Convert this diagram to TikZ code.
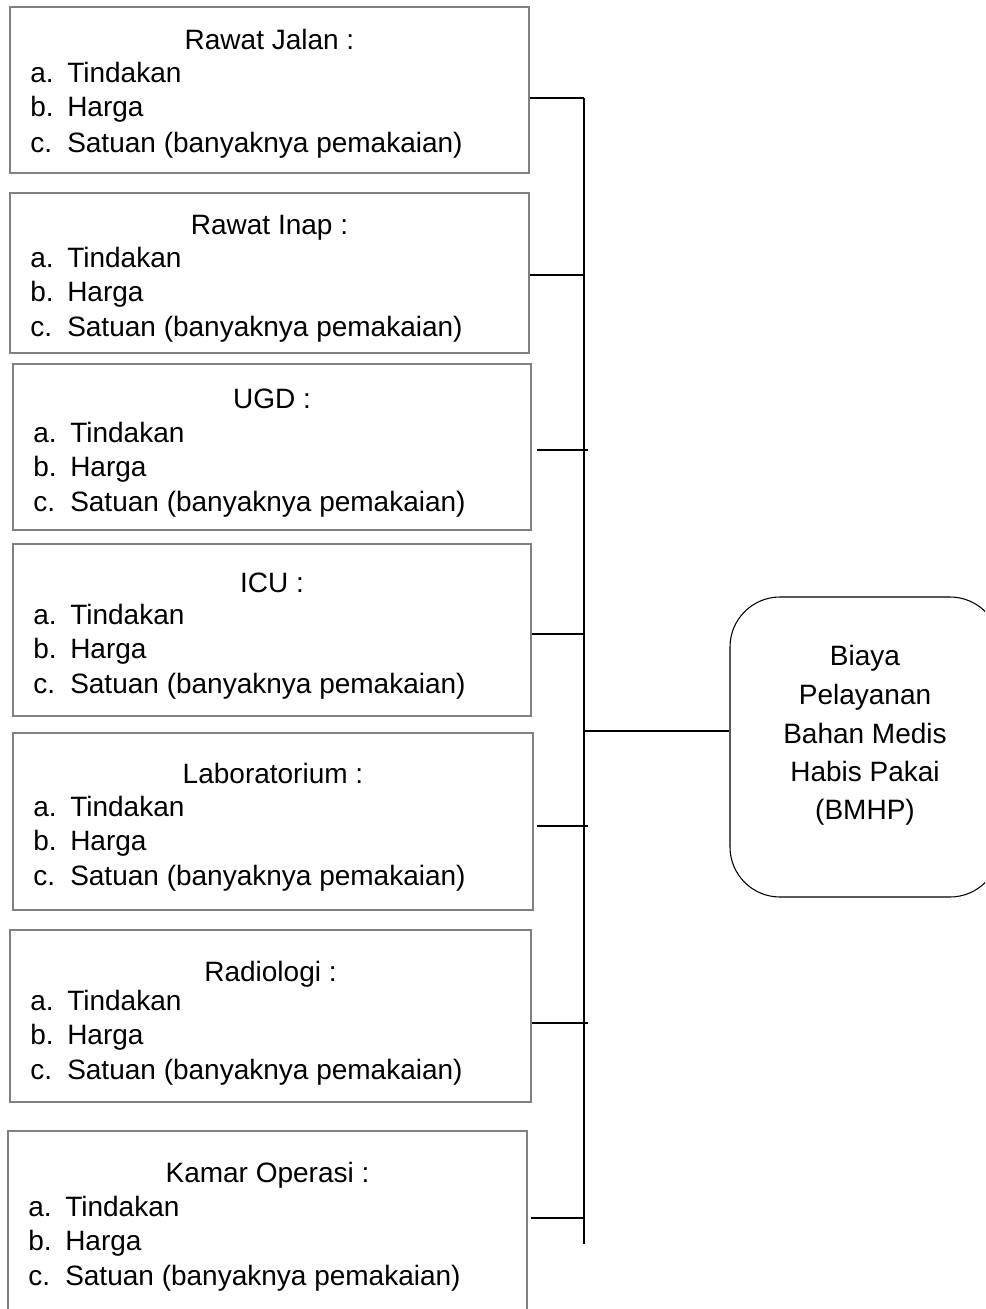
\documentclass[tikz,border=0pt]{standalone}
\usepackage{fontspec}
\setmainfont{Liberation Sans}
\usetikzlibrary{fit}
\definecolor{boxgray}{RGB}{128,128,128}
\newcommand\fsz{\fontsize{21}{25}\selectfont}
\newcommand\lab[1]{\makebox[27.75pt][l]{#1}}
% name, L, T, R, B, title, title baseline, first item baseline
\newcommand\unitbox[8]{%
  \node[box, fit={(#2,#3) (#4,#5)}] (#1) {};
  \node[ttl] (#1t) at ({(#2+#4)/2},#7) {#6};
  \node[itm] (#1a) at ({#2+20},#8) {\lab{a.}Tindakan};
  \node[itm] (#1b) at ({#2+20},{#8+34}) {\lab{b.}Harga};
  \node[itm] (#1c) at ({#2+20},{#8+69}) {\lab{c.}Satuan (banyaknya pemakaian)};
}
\begin{document}
\begin{tikzpicture}[x=0.75pt,y=-0.75pt,
  box/.style={draw=boxgray, line width=1pt, inner sep=0pt},
  ttl/.style={anchor=base, inner sep=0pt, font=\fsz},
  itm/.style={anchor=base west, inner sep=0pt, font=\fsz},
  conn/.style={draw=black, line width=0.8pt},
  bline/.style={anchor=base, inner sep=0pt, font=\fsz}]
\useasboundingbox (0,0) rectangle (985,1309);
\clip (0,0) rectangle (985,1309);

\unitbox{b1}{10}{7}{529}{173}{Rawat Jalan :}{50}{83}
\unitbox{b2}{10}{193}{529}{353}{Rawat Inap :}{234}{267}
\unitbox{b3}{13}{364}{531}{530}{UGD :}{408}{442}
\unitbox{b4}{13}{544}{531}{716}{ICU :}{592}{624}
\unitbox{b5}{13}{733}{533}{910}{Laboratorium :}{783}{816}
\unitbox{b6}{10}{930}{531}{1102}{Radiologi :}{981}{1010}
\unitbox{b7}{8}{1131}{527}{1330}{Kamar Operasi :}{1182}{1216}

% trunk
\coordinate (ttop) at (584,98);
\coordinate (tbot) at (584,1244);
\draw[conn] (ttop) -- (tbot);

\coordinate (j1) at (584,98);
\coordinate (j2) at (584,275);
\coordinate (j3) at (588,450);
\coordinate (j4) at (584,634);
\coordinate (j5) at (588,826);
\coordinate (j6) at (588,1023);
\coordinate (j7) at (584,1218);
\draw[conn] (b1.east |- j1) -- (j1);
\draw[conn] (b2.east |- j2) -- (j2);
\draw[conn] ([xshift=3.75pt]b3.east |- j3) -- (j3);
\draw[conn] (b4.east |- j4) -- (j4);
\draw[conn] ([xshift=2.25pt]b5.east |- j5) -- (j5);
\draw[conn] (b6.east |- j6) -- (j6);
\draw[conn] ([xshift=2.25pt]b7.east |- j7) -- (j7);

% result box
\node[draw=black, line width=0.8pt, rounded corners=37.5pt, inner sep=0pt,
      fit={(730,597) (1000,897)}] (bm) {};
\coordinate (jm) at (584,731);
\draw[conn] (jm) -- (bm.west |- jm);
\node[bline] (bm1) at (865,665) {Biaya};
\node[bline] (bm2) at (865,704) {Pelayanan};
\node[bline] (bm3) at (865,743) {Bahan Medis};
\node[bline] (bm4) at (865,781) {Habis Pakai};
\node[bline] (bm5) at (865,819) {(BMHP)};
\end{tikzpicture}
\end{document}
